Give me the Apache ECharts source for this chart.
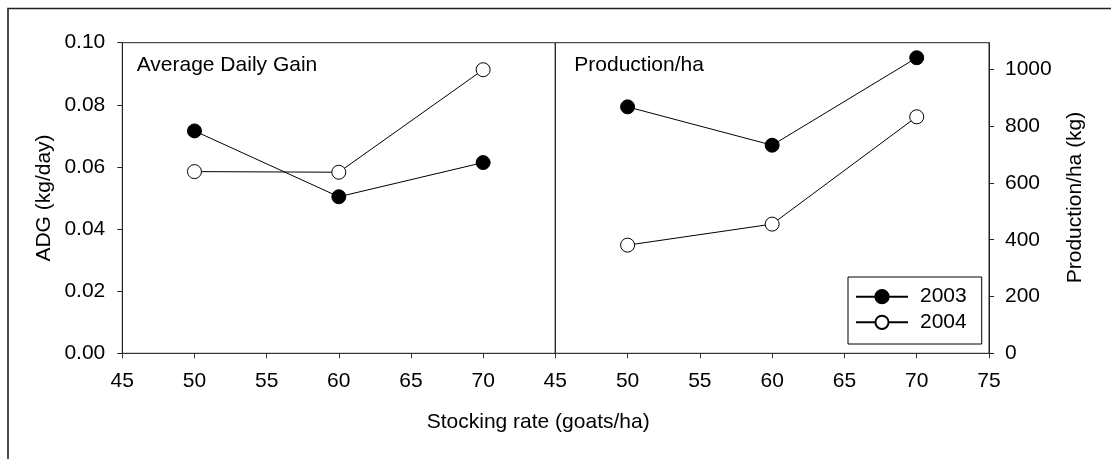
<!DOCTYPE html>
<html>
<head>
<meta charset="utf-8">
<script src="https://cdn.jsdelivr.net/npm/echarts@6/dist/echarts.min.js"></script>
<style>html,body{margin:0;padding:0;background:#fff;}#c{width:1111px;height:459px;}</style>
</head>
<body>
<div id="c"></div>
<script>
const stockingRates = [50, 60, 70];
const adg2003 = [0.0716, 0.0504, 0.0614];
const adg2004 = [0.0585, 0.0583, 0.0913];
const prod2003 = [868, 733, 1041];
const prod2004 = [381, 455, 833];
const adgTicks = [0, 0.02, 0.04, 0.06, 0.08, 0.10];
const prodTicks = [0, 200, 400, 600, 800, 1000];
const seriesNames = ['2003', '2004'];

const FONT = '"Liberation Sans", Arial, Helvetica, sans-serif';
const FS = 21;
const zip = (xs, ys) => xs.map((x, i) => [x, ys[i]]);

const chart = echarts.init(document.getElementById('c'), null, {renderer: 'canvas'});

const xAxisBase = (gi, showMax) => ({
  gridIndex: gi, type: 'value', min: 45, max: 75, interval: 5,
  axisLine: {show: true, onZero: false, lineStyle: {color: '#333', width: 1}},
  axisTick: {show: true, inside: false, length: 5, lineStyle: {color: '#333'}},
  axisLabel: {margin: 17, fontSize: FS, fontFamily: FONT, color: '#000', showMaxLabel: showMax, showMinLabel: true},
  splitLine: {show: false}
});

const filled = {color: '#000', borderColor: '#000', borderWidth: 1};
const hollow = {color: '#fff', borderColor: '#000', borderWidth: 1};
const mk = (name, gi, data, style) => ({
  name, type: 'line', xAxisIndex: gi, yAxisIndex: gi, data,
  symbol: 'circle', symbolSize: 14, showAllSymbol: true,
  lineStyle: {color: '#000', width: 1}, itemStyle: style,
  emphasis: {disabled: true}
});

chart.setOption({
  animation: false,
  backgroundColor: '#fff',
  textStyle: {fontFamily: FONT},
  grid: [
    {left: 122.3, top: 42.7, width: 433, height: 310.6, show: true, borderColor: '#222', borderWidth: 1, containLabel: false},
    {left: 555.3, top: 42.7, width: 433.7, height: 310.6, show: true, borderColor: '#222', borderWidth: 1, containLabel: false}
  ],
  xAxis: [xAxisBase(0, false), xAxisBase(1, true)],
  yAxis: [
    {gridIndex: 0, type: 'value', min: 0, max: 0.1, interval: 0.02,
     axisLine: {show: true, lineStyle: {color: '#222'}},
     axisTick: {show: true, length: 5, lineStyle: {color: '#222'}},
     axisLabel: {margin: 17, fontSize: FS, fontFamily: FONT, color: '#000',
                 customValues: adgTicks, formatter: v => v.toFixed(2)},
     splitLine: {show: false}},
    {gridIndex: 1, type: 'value', position: 'right', min: 0, max: 1094, interval: 200,
     axisLine: {show: true, lineStyle: {color: '#222'}},
     axisTick: {show: true, length: 5, lineStyle: {color: '#222'}, customValues: prodTicks},
     axisLabel: {margin: 16, fontSize: FS, fontFamily: FONT, color: '#000', customValues: prodTicks,
                 formatter: v => String(Math.round(v))},
     splitLine: {show: false}}
  ],
  legend: {
    data: seriesNames, orient: 'vertical', left: 848, top: 277,
    itemWidth: 52, itemHeight: 16.5, itemGap: 4.6,
    padding: [9.2, 15, 11.2, 7],
    borderColor: '#000', borderWidth: 1, borderRadius: 0, backgroundColor: '#fff',
    selectedMode: false,
    textStyle: {fontSize: FS, fontFamily: FONT, color: '#000', padding: [0, 0, 0, 7]}
  },
  series: [
    mk(seriesNames[0], 0, zip(stockingRates, adg2003), filled),
    mk(seriesNames[1], 0, zip(stockingRates, adg2004), hollow),
    mk(seriesNames[0], 1, zip(stockingRates, prod2003), filled),
    mk(seriesNames[1], 1, zip(stockingRates, prod2004), hollow)
  ],
  graphic: [
    {type: 'rect', silent: true, z: -1, shape: {x: 8, y: 8.5, width: 1200, height: 500},
     style: {fill: 'none', stroke: '#222', lineWidth: 1.6}},
    {type: 'text', x: 136.7, y: 65, style: {text: 'Average Daily Gain', font: FS + 'px ' + FONT, fill: '#000', textAlign: 'left', textVerticalAlign: 'middle'}},
    {type: 'text', x: 574.3, y: 65, style: {text: 'Production/ha', font: FS + 'px ' + FONT, fill: '#000', textAlign: 'left', textVerticalAlign: 'middle'}},
    {type: 'text', x: 426.7, y: 422.5, style: {text: 'Stocking rate (goats/ha)', font: FS + 'px ' + FONT, fill: '#000', textAlign: 'left', textVerticalAlign: 'middle'}},
    {type: 'text', x: 44, y: 198, rotation: Math.PI / 2, style: {text: 'ADG (kg/day)', font: FS + 'px ' + FONT, fill: '#000', textAlign: 'center', textVerticalAlign: 'middle'}},
    {type: 'text', x: 1075.5, y: 197.5, rotation: Math.PI / 2, style: {text: 'Production/ha (kg)', font: FS + 'px ' + FONT, fill: '#000', textAlign: 'center', textVerticalAlign: 'middle'}}
  ]
});
</script>
</body>
</html>
